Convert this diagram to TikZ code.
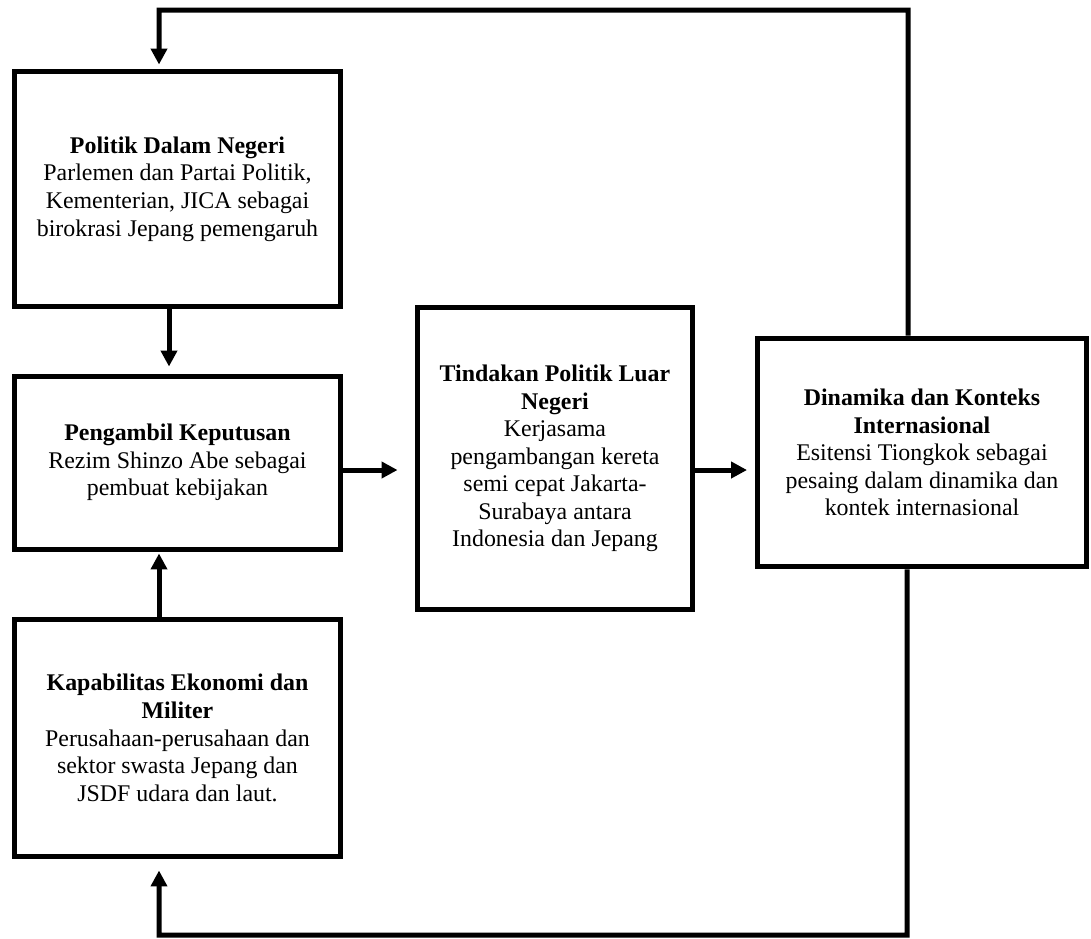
\documentclass[tikz,border=0pt]{standalone}
\usepackage{fontspec}
\setmainfont{Liberation Serif}
\usetikzlibrary{positioning}
\usetikzlibrary{arrows.meta}

\tikzset{
    kotak/.style={draw, line width=0.1cm, align=center, inner sep=0pt,
        font=\fontsize{13.6}{15.7}\selectfont},
    panah/.style={line width=0.1cm, -{Triangle[length=0.32cm,width=0.32cm]}}
}

\begin{document}
\begin{tikzpicture}[x=0.02cm, y=-0.02cm]
    \useasboundingbox (0, 0) rectangle (1091, 938);

    \node[kotak, minimum width=6.54cm, minimum height=4.72cm] (dalam) at (177.5, 189)
        {\textbf{Politik Dalam Negeri}\\Parlemen dan Partai Politik,\\Kementerian, JICA sebagai\\birokrasi Jepang pemengaruh};
    \node[kotak, minimum width=6.54cm, minimum height=3.46cm] (keputusan) at (177.5, 462.5)
        {\textbf{Pengambil Keputusan}\\Rezim Shinzo Abe sebagai\\pembuat kebijakan};
    \node[kotak, minimum width=6.54cm, minimum height=4.76cm] (kapabilitas) at (177.5, 738)
        {\textbf{Kapabilitas Ekonomi dan}\\\textbf{Militer}\\Perusahaan-perusahaan dan\\sektor swasta Jepang dan\\JSDF udara dan laut.};
    \node[kotak, minimum width=5.52cm, minimum height=6.06cm] (tindakan) at (555, 458.5)
        {\textbf{Tindakan Politik Luar}\\\textbf{Negeri}\\Kerjasama\\pengambangan kereta\\semi cepat Jakarta-\\Surabaya antara\\Indonesia dan Jepang};
    \node[kotak, minimum width=6.58cm, minimum height=4.58cm] (dinamika) at (922, 452.5)
        {\textbf{Dinamika dan Konteks}\\\textbf{Internasional}\\Esitensi Tiongkok sebagai\\pesaing dalam dinamika dan\\kontek internasional};

    \coordinate (atasKanan) at (908, 10);
    \coordinate (atasKiri) at (159, 10);
    \coordinate (bawahKanan) at (907, 935);
    \coordinate (bawahKiri) at (159, 935);

    \draw[panah, shorten >=0.14cm]
        ([xshift=-0.17cm]dalam.south) -- ([xshift=-0.17cm]keputusan.north);
    \draw[panah, shorten >=0.04cm]
        ([xshift=-0.37cm]kapabilitas.north) -- ([xshift=-0.37cm]keputusan.south);
    \draw[panah, shorten >=0.34cm]
        ([yshift=-0.15cm]keputusan.east) -- ([yshift=-0.15cm]keputusan.east -| tindakan.west);
    \draw[panah, shorten >=0.16cm]
        ([yshift=-0.23cm]tindakan.east) -- ([yshift=-0.23cm]tindakan.east -| dinamika.west);

    \draw[panah, shorten >=0.08cm]
        ([xshift=-0.28cm]dinamika.north) -- (atasKanan) -- (atasKiri) -- (atasKiri |- dalam.north);
    \draw[panah, shorten >=0.22cm]
        ([xshift=-0.3cm]dinamika.south) -- (bawahKanan) -- (bawahKiri) -- (bawahKiri |- kapabilitas.south);
\end{tikzpicture}
\end{document}
